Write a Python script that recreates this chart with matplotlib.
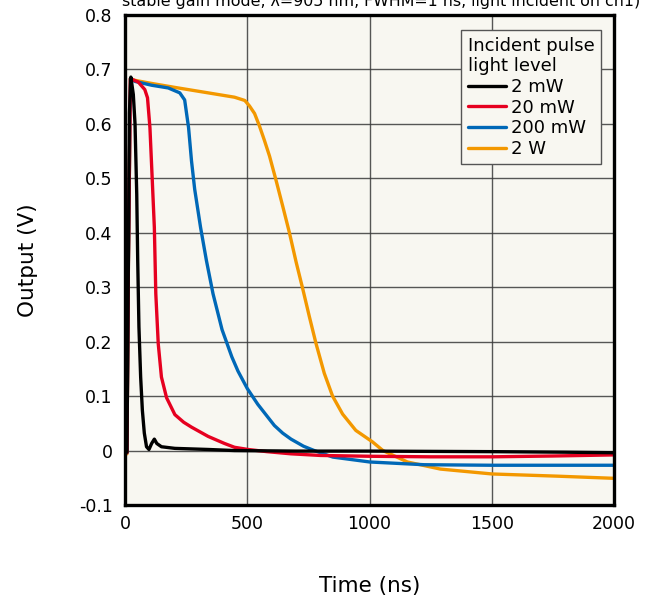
import numpy as np
import matplotlib
matplotlib.use("Agg")
import matplotlib.pyplot as plt

plt.rcParams["font.family"] = "DejaVu Sans"

# output waveforms for each incident light level (time in ns, output in V)
t_2mw = [0, 8, 13, 18, 24, 34, 41, 48, 52, 57, 64, 71, 79, 88, 98, 109, 120, 130,
         149, 204, 340, 448, 700, 1000, 1500, 1800, 2000]
v_2mw = [0, -0.003, 0.30, 0.62, 0.686, 0.654, 0.60, 0.471, 0.349, 0.227, 0.135,
         0.074, 0.032, 0.007, 0.002, 0.013, 0.021, 0.013, 0.007, 0.004, 0.002, 0.0,
         -0.001, -0.001, -0.002, -0.003, -0.004]

t_20mw = [0, 8, 14, 22, 54, 81, 92, 102, 111, 120, 126, 136, 149, 170, 204, 240,
          272, 340, 407, 448, 503, 580, 679, 800, 1001, 1250, 1501, 1750, 2000]
v_20mw = [0, -0.004, 0.35, 0.683, 0.677, 0.663, 0.648, 0.593, 0.502, 0.41, 0.288,
          0.196, 0.135, 0.097, 0.066, 0.052, 0.043, 0.026, 0.013, 0.006, 0.002,
          -0.002, -0.006, -0.009, -0.0105, -0.0115, -0.0115, -0.010, -0.008]

t_200mw = [0, 8, 14, 22, 41, 109, 177, 224, 244, 260, 272, 285, 309, 333, 360, 397,
           437, 462, 500, 543, 590, 611, 645, 679, 730, 774, 850, 1001, 1223, 1501,
           2000]
v_200mw = [0, -0.004, 0.35, 0.683, 0.678, 0.671, 0.666, 0.657, 0.644, 0.593, 0.532,
           0.48, 0.41, 0.349, 0.288, 0.222, 0.172, 0.146, 0.114, 0.085, 0.058,
           0.046, 0.032, 0.021, 0.008, 0.0, -0.012, -0.021, -0.026, -0.027, -0.027]

t_2w = [0, 8, 14, 22, 41, 100, 204, 340, 448, 490, 509, 530, 550, 570, 591, 618, 645,
        672, 700, 727, 754, 781, 815, 849, 890, 944, 1012, 1055, 1155, 1290, 1501,
        1766, 2000]
v_2w = [0, -0.006, 0.35, 0.683, 0.680, 0.675, 0.667, 0.657, 0.649, 0.643, 0.633,
        0.619, 0.596, 0.570, 0.541, 0.496, 0.449, 0.401, 0.346, 0.297, 0.246, 0.197,
        0.142, 0.100, 0.067, 0.037, 0.016, 0.0, -0.021, -0.034, -0.043, -0.047,
        -0.051]

labels = ["2 mW", "20 mW", "200 mW", "2 W"]
colors = ["#000000", "#e60020", "#0068b7", "#f39800"]

fig = plt.figure(figsize=(6.54, 6.03), dpi=100)
ax = fig.add_axes([125 / 654, 1 - 505 / 603, 489 / 654, 490 / 603])
ax.set_facecolor("#f8f7f1")

series = [(t_2mw, v_2mw), (t_20mw, v_20mw), (t_200mw, v_200mw), (t_2w, v_2w)]
for i, ((t, v), lab, c) in enumerate(zip(series, labels, colors)):
    ax.plot(t, v, color=c, lw=2.4, label=lab, zorder=10 - i,
            solid_joinstyle="round", solid_capstyle="round")

ax.set_xlim(0, 2000)
ax.set_ylim(-0.1, 0.8)
ax.set_xticks(np.arange(0, 2001, 500))
ax.set_yticks(np.round(np.arange(-0.1, 0.81, 0.1), 1))
ax.set_yticklabels(["-0.1", "0", "0.1", "0.2", "0.3", "0.4", "0.5", "0.6", "0.7", "0.8"])
ax.tick_params(length=0, labelsize=12.5)
ax.tick_params(axis="y", pad=9)
ax.tick_params(axis="x", pad=7)
ax.grid(True, color="#3a3a3a", lw=1.0, alpha=0.85)
ax.set_axisbelow(True)
for s in ax.spines.values():
    s.set_linewidth(2.4)
    s.set_zorder(20)

ax.set_xlabel("Time (ns)", fontsize=15.5)
ax.set_ylabel("Output (V)", fontsize=15.5)
ax.xaxis.set_label_coords(0.5, -0.145)
ax.yaxis.set_label_coords(-0.178, 0.5)

leg = ax.legend(title="Incident pulse\nlight level", loc="upper right",
                bbox_to_anchor=(0.973, 0.969), borderaxespad=0, fontsize=13,
                title_fontsize=13, alignment="left", fancybox=False,
                framealpha=1, facecolor="#f8f7f1", edgecolor="#555555",
                handlelength=2.1, handletextpad=0.3, labelspacing=0.15,
                borderpad=0.35)
leg.get_frame().set_linewidth(1.0)
leg.set_zorder(30)

# second line of the caption; the line above it falls off the top edge
fig.text(122 / 654, 1 - 6 / 603,
         "stable gain mode, λ=905 nm, FWHM=1 ns, light incident on ch1)",
         fontsize=11.4, ha="left", va="baseline")

fig.savefig("out.png", dpi=100)
